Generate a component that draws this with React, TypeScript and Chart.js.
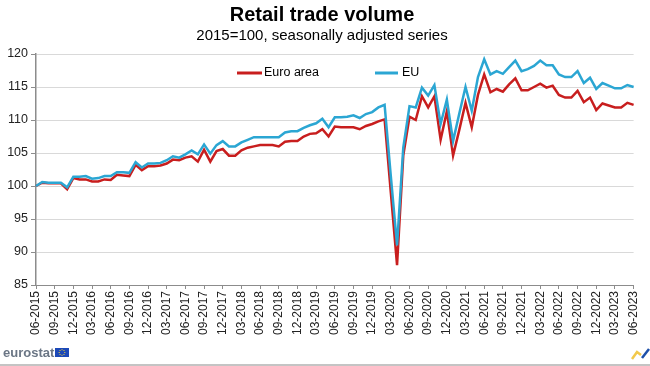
import React, { useEffect, useRef } from 'react';
import { Chart, registerables } from 'chart.js';

Chart.register(...registerables);

const FONT = '"Liberation Sans", Arial, Helvetica, sans-serif';

// Categories: monthly, 06-2015 .. 06-2023
const START_MONTH = 6;
const START_YEAR = 2015;
const MONTH_COUNT = 97;
const months: string[] = Array.from({ length: MONTH_COUNT }, (_, i) => {
  const m0 = START_MONTH - 1 + i;
  const m = (m0 % 12) + 1;
  const y = START_YEAR + Math.floor(m0 / 12);
  return `${String(m).padStart(2, '0')}-${y}`;
});

const euroArea: number[] = [
  100.0, 100.5, 100.4, 100.4, 100.4, 99.5, 101.2, 101.0, 101.0, 100.7,
  100.7, 101.0, 100.9, 101.7, 101.6, 101.5, 103.2, 102.4, 103.0, 103.0,
  103.1, 103.4, 104.0, 103.9, 104.3, 104.5, 103.7, 105.5, 103.7, 105.3,
  105.6, 104.6, 104.6, 105.4, 105.8, 106.0, 106.2, 106.2, 106.2, 106.0,
  106.7, 106.8, 106.8, 107.5, 107.9, 108.0, 108.6, 107.5, 109.0, 108.9,
  108.9, 108.9, 108.6, 109.1, 109.4, 109.8, 110.1, 99.0, 88.0, 104.6,
  110.5, 110.0, 113.6, 111.9, 113.6, 107.0, 111.3, 104.6, 108.5, 112.6,
  108.9, 113.8, 116.9, 114.2, 114.7, 114.3, 115.4, 116.3, 114.5, 114.5,
  115.0, 115.5, 114.9, 115.2, 113.8, 113.4, 113.4, 114.4, 112.7, 113.4,
  111.5, 112.5, 112.2, 111.9, 111.9, 112.6, 112.3,
];

const eu: number[] = [
  100.0, 100.6, 100.5, 100.5, 100.5, 99.8, 101.4, 101.4, 101.5, 101.1,
  101.2, 101.5, 101.5, 102.1, 102.1, 102.0, 103.6, 102.8, 103.4, 103.4,
  103.5, 103.9, 104.5, 104.3, 104.8, 105.4, 104.8, 106.3, 104.9, 106.2,
  106.8, 106.0, 106.0, 106.6, 107.0, 107.4, 107.4, 107.4, 107.4, 107.4,
  108.1, 108.3, 108.3, 108.8, 109.2, 109.5, 110.2, 108.9, 110.4, 110.4,
  110.5, 110.7, 110.3, 110.9, 111.2, 111.9, 112.3, 101.5, 91.0, 105.8,
  112.1, 111.9, 114.9, 113.7, 115.3, 109.4, 113.1, 106.8, 111.0, 115.0,
  111.4, 116.5, 119.2, 116.9, 117.4, 117.0, 118.0, 119.0, 117.4, 117.7,
  118.2, 119.0, 118.3, 118.3, 116.9, 116.5, 116.5, 117.4, 115.6, 116.4,
  114.7, 115.6, 115.2, 114.8, 114.8, 115.3, 115.0,
];

const Y_MIN = 85;
const Y_MAX = 120;
const Y_STEP = 5;
const LABEL_EVERY = 3;

const RED = '#C81E1E';
const BLUE = '#2BA6D3';

const decorPlugin = {
  id: 'decor',
  afterDraw(chart: any) {
    const ctx = chart.ctx as CanvasRenderingContext2D;
    const ca = chart.chartArea;
    ctx.save();
    // Legend inside plot
    const ly = ca.top + 19;
    ctx.lineWidth = 3;
    ctx.lineCap = 'butt';
    ctx.strokeStyle = RED;
    ctx.beginPath();
    ctx.moveTo(ca.left + 201, ly);
    ctx.lineTo(ca.left + 226, ly);
    ctx.stroke();
    ctx.strokeStyle = BLUE;
    ctx.beginPath();
    ctx.moveTo(ca.left + 339, ly);
    ctx.lineTo(ca.left + 362, ly);
    ctx.stroke();
    ctx.fillStyle = '#000';
    ctx.font = `12.5px ${FONT}`;
    ctx.textBaseline = 'middle';
    ctx.textAlign = 'left';
    ctx.fillText('Euro area', ca.left + 228, ly);
    ctx.fillText('EU', ca.left + 366, ly);

    // eurostat logo
    ctx.font = `bold 13px ${FONT}`;
    ctx.fillStyle = '#6b7685';
    ctx.textBaseline = 'alphabetic';
    ctx.fillText('eurostat', 3, 357);
    ctx.fillStyle = '#1c49b8';
    ctx.fillRect(55, 348, 14, 9);
    ctx.fillStyle = '#f2d23c';
    for (let k = 0; k < 8; k++) {
      const a = (k / 8) * Math.PI * 2;
      ctx.fillRect(62 + Math.cos(a) * 2.8 - 0.5, 352.5 + Math.sin(a) * 2.8 - 0.5, 1, 1);
    }
    // bottom rule
    ctx.strokeStyle = '#b0b0b0';
    ctx.lineWidth = 1.5;
    ctx.beginPath();
    ctx.moveTo(0, 365);
    ctx.lineTo(650, 365);
    ctx.stroke();
    // small corner icon
    ctx.lineWidth = 2.5;
    ctx.strokeStyle = '#f2c94c';
    ctx.beginPath();
    ctx.moveTo(632, 359);
    ctx.lineTo(637, 352);
    ctx.lineTo(641, 355);
    ctx.stroke();
    ctx.strokeStyle = '#1d4fa8';
    ctx.beginPath();
    ctx.moveTo(642, 358);
    ctx.lineTo(649, 349);
    ctx.stroke();
    ctx.restore();
  },
};

export default function App() {
  const ref = useRef<HTMLCanvasElement>(null);
  useEffect(() => {
    const chart = new Chart(ref.current as HTMLCanvasElement, {
      type: 'line',
      data: {
        labels: months,
        datasets: [
          {
            label: 'EU',
            data: eu,
            borderColor: BLUE,
            backgroundColor: BLUE,
            borderWidth: 2.5,
            pointRadius: 0,
            tension: 0,
            order: 0,
          },
          {
            label: 'Euro area',
            data: euroArea,
            borderColor: RED,
            backgroundColor: RED,
            borderWidth: 2.5,
            pointRadius: 0,
            tension: 0,
            order: 1,
          },
        ],
      },
      options: {
        responsive: false,
        animation: false,
        devicePixelRatio: 1,
        layout: { padding: { left: 0, right: 6, top: 0, bottom: 0 } },
        plugins: {
          legend: { display: false },
          tooltip: { enabled: false },
          title: {
            display: true,
            text: 'Retail trade volume',
            color: '#000',
            font: { family: FONT, size: 20, weight: 'bold', lineHeight: 1.2 },
            padding: { top: 3, bottom: 0 },
          },
          subtitle: {
            display: true,
            text: '2015=100, seasonally adjusted series',
            color: '#000',
            font: { family: FONT, size: 15, lineHeight: 1.2 },
            padding: { top: 0, bottom: 9 },
          },
        },
        scales: {
          x: {
            type: 'category',
            offset: false,
            grid: {
              drawOnChartArea: false,
              drawTicks: true,
              tickLength: 4,
              color: '#8c8c8c',
            },
            border: { display: true, color: '#8c8c8c', width: 1 },
            ticks: {
              autoSkip: false,
              minRotation: 90,
              maxRotation: 90,
              padding: 2,
              color: '#222',
              font: { family: FONT, size: 12 },
              callback: (_v: any, idx: number) => (idx % LABEL_EVERY === 0 ? months[idx] : null),
            },
            afterFit: (s: any) => {
              s.height = 81;
            },
          },
          y: {
            min: Y_MIN,
            max: Y_MAX,
            grid: {
              color: '#d9d9d9',
              lineWidth: 1,
              drawTicks: true,
              tickLength: 5,
              tickColor: '#8c8c8c',
            },
            border: { display: true, color: '#8c8c8c', width: 1.5 },
            ticks: {
              stepSize: Y_STEP,
              padding: 3,
              color: '#222',
              font: { family: FONT, size: 12.5 },
            },
            afterFit: (s: any) => {
              s.width = 36;
            },
          },
        },
      },
      plugins: [decorPlugin],
    } as any);
    return () => chart.destroy();
  }, []);
  return (
    <div style={{ position: 'absolute', left: 0, top: 0, width: 650, height: 366, background: '#fff' }}>
      <canvas ref={ref} width={650} height={366} style={{ display: 'block', width: 650, height: 366 }} />
    </div>
  );
}
